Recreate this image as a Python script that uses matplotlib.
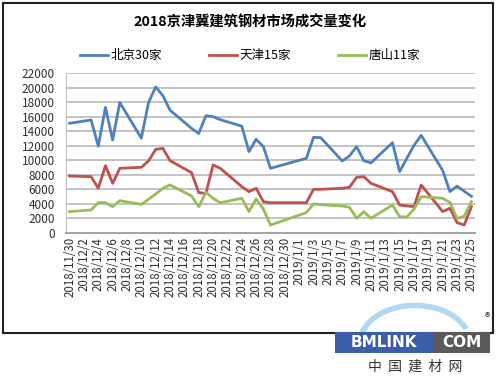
import matplotlib
matplotlib.use("Agg")
import matplotlib.pyplot as plt
import matplotlib.patches as mpatches
import matplotlib.dates as mdates
import pandas as pd

plt.rcParams['font.family'] = ['Noto Sans CJK SC', 'DejaVu Sans']

# ============================================
# 数据
# ============================================
dates = [
    "2018-11-30", "2018-12-03", "2018-12-04", "2018-12-05", "2018-12-06", "2018-12-07",
    "2018-12-10", "2018-12-11", "2018-12-12", "2018-12-13", "2018-12-14",
    "2018-12-17", "2018-12-18", "2018-12-19", "2018-12-20", "2018-12-21",
    "2018-12-24", "2018-12-25", "2018-12-26", "2018-12-27", "2018-12-28",
    "2019-01-02", "2019-01-03", "2019-01-04",
    "2019-01-07", "2019-01-08", "2019-01-09", "2019-01-10", "2019-01-11",
    "2019-01-14", "2019-01-15", "2019-01-16", "2019-01-17", "2019-01-18",
    "2019-01-21", "2019-01-22", "2019-01-23", "2019-01-24", "2019-01-25",
]
beijing = [15100, 15550, 11950, 17300, 12800, 17950,
           13050, 17950, 20100, 18900, 16900,
           14400, 13700, 16150, 16000, 15600,
           14700, 11200, 12900, 11900, 8900,
           10280, 13170, 13120,
           9910, 10600, 11880, 9950, 9650,
           12430, 8450, 10280, 12060, 13440,
           8600, 5700, 6450, 5750, 5050]
tianjin = [7840, 7750, 6150, 9270, 6830, 8900,
           9040, 9910, 11510, 11650, 9950,
           8300, 5550, 5450, 9360, 8900,
           6380, 5690, 6150, 4310, 4170,
           4170, 6010, 6010,
           6150, 6280, 7660, 7750, 6830,
           5690, 3850, 3720, 3620, 6600,
           2940, 3400, 1420, 1100, 3620]
tangshan = [2940, 3170, 4170, 4170, 3620, 4450,
            3940, 4630, 5370, 6150, 6610,
            5090, 3620, 5600, 4770, 4170,
            4770, 2940, 4700, 3300, 1100,
            2800, 4000, 3900,
            3700, 3550, 2020, 2930, 2020,
            3850, 2250, 2200, 3300, 5000,
            4770, 4200, 2000, 2300, 4310]

series_names = ["北京30家", "天津15家", "唐山11家"]
series_colors = ["#4F81BD", "#C0504D", "#9BBB59"]
title = "2018京津冀建筑钢材市场成交量变化"

x = pd.to_datetime(dates)

# ============================================
# 绘图
# ============================================
fig = plt.figure(figsize=(5.0, 3.77), dpi=100)
ax = fig.add_axes([0.132, 0.382, 0.818, 0.424])

for vals, name, col in zip([beijing, tianjin, tangshan], series_names, series_colors):
    ax.plot(x, vals, color=col, lw=2.0, label=name, solid_joinstyle='round')

start = x[0] - pd.Timedelta(hours=12)
end = x[-1] + pd.Timedelta(hours=12)
ax.set_xlim(start, end)
ax.set_ylim(0, 22000)
ax.set_yticks(range(0, 22001, 2000))
ax.grid(axis='y', color='#BFBFBF', lw=1.3)
ax.set_axisbelow(True)

ticks = pd.date_range(x[0], x[-1], freq='2D')
ax.set_xticks(ticks)
ax.set_xticklabels([f"{d.year}/{d.month}/{d.day}" for d in ticks],
                   rotation=90, fontsize=8.3, color='#303030')
ax.tick_params(axis='y', labelsize=8.5, labelcolor='#303030', length=0, pad=8)
ax.tick_params(axis='x', length=0, pad=3)

for s in ['top', 'right']:
    ax.spines[s].set_visible(False)
ax.spines['left'].set_color('#BFBFBF')
ax.spines['bottom'].set_color('#A6A6A6')
ax.spines['bottom'].set_linewidth(1.5)

fig.text(0.5, 0.94, title, ha='center', va='center', fontsize=10.3, fontweight='bold')

fig.legend(loc='center', bbox_to_anchor=(0.5, 0.853), ncol=3, frameon=False,
           fontsize=9, handlelength=2.2, handletextpad=0.2, columnspacing=3.8)

# 外框
fig.patches.append(mpatches.Rectangle((0.006, 0.117), 0.979, 0.875, transform=fig.transFigure,
                                      fill=False, edgecolor='#202020', lw=1.5))

# 水印
fig.patches.append(mpatches.Arc((0.83, 0.09), 0.22, 0.2, theta1=20, theta2=175,
                                transform=fig.transFigure, color='#9ECFEF', lw=4, alpha=0.8))
fig.patches.append(mpatches.Rectangle((0.67, 0.063), 0.196, 0.056, transform=fig.transFigure,
                                      facecolor='#3C5EA8', edgecolor='none'))
fig.patches.append(mpatches.Rectangle((0.866, 0.063), 0.114, 0.056, transform=fig.transFigure,
                                      facecolor='#5A5A5A', edgecolor='none'))
fig.text(0.768, 0.091, "BMLINK", ha='center', va='center', fontsize=11, color='white',
         fontweight='bold', family='DejaVu Sans')
fig.text(0.923, 0.091, "COM", ha='center', va='center', fontsize=11, color='white',
         fontweight='bold', family='DejaVu Sans')
fig.text(0.83, 0.027, "中  国  建  材  网", ha='center', va='center', fontsize=10, color='#333333')
fig.text(0.974, 0.155, "®", ha='center', va='center', fontsize=8, color='#333333')

fig.savefig("out.png", dpi=100)
